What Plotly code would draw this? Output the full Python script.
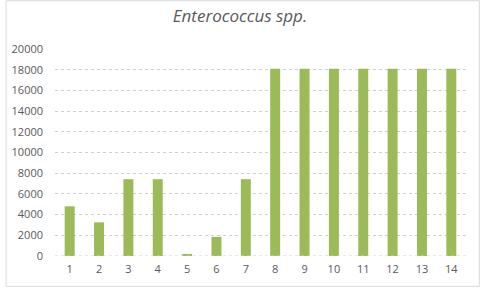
import plotly.graph_objects as go

categories = [str(i) for i in range(1, 15)]
values = [4800, 3250, 7420, 7420, 150, 1850, 7420, 18100, 18100, 18100, 18100, 18100, 18100, 18100]
y_ticks = list(range(0, 20001, 2000))
y_tick_labels = [str(v) for v in y_ticks]

L, R, T, B = 50, 14, 49, 31
W, H = 480, 288
pw, ph = W - L - R, H - T - B

fig = go.Figure(go.Bar(x=categories, y=values, marker_color="#9BBB59", marker_line_width=0, width=0.34))

fig.update_layout(
    width=W, height=H,
    margin=dict(l=L, r=R, t=T, b=B),
    paper_bgcolor="white", plot_bgcolor="white",
    font=dict(family="Open Sans, Liberation Sans, sans-serif", color="#595959", size=11),
    title=dict(text="Enterococcus spp.", x=0.5, xanchor="center", y=1 - 16 / H, yanchor="middle",
               font=dict(size=17, style="italic", color="#595959")),
    showlegend=False,
)
fig.update_xaxes(type="category", showgrid=False, showline=False, ticks="", tickfont=dict(size=11),
                 ticklabelstandoff=5)
fig.update_yaxes(range=[0, 20000], tickvals=y_ticks, ticktext=y_tick_labels, showgrid=True,
                 gridcolor="#d0d0d0", griddash="dot", gridwidth=1, zeroline=False, showline=False,
                 ticks="", tickfont=dict(size=11), ticklabelstandoff=11)
# baseline
fig.add_shape(type="line", xref="paper", yref="y", x0=0, x1=1, y0=0, y1=0,
              line=dict(color="#d0d0d0", width=1, dash="dot"))
# chart border
fig.add_shape(type="rect", xref="paper", yref="paper",
              x0=(0.5 - L) / pw, x1=(W - 0.5 - L) / pw,
              y0=(-(B - 0.5)) / ph, y1=(ph + T - 0.5) / ph,
              line=dict(color="#d9d9d9", width=1), fillcolor="rgba(0,0,0,0)", layer="below")

fig.write_html("out.html", config={"displayModeBar": False},
               post_script="document.body.style.margin='0';document.body.style.padding='0';")
